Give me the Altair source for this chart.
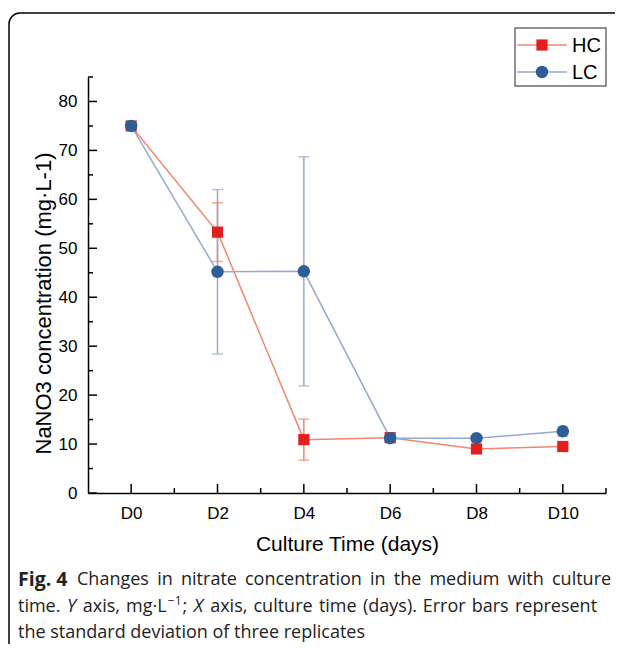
import altair as alt
import pandas as pd

# ---- data ----
series = ["HC", "LC"]
days = [0, 2, 4, 6, 8, 10]
day_labels = ["D0", "D2", "D4", "D6", "D8", "D10"]
hc_mean = [75.0, 53.3, 10.9, 11.3, 9.0, 9.5]
hc_sd = [0.5, 6.0, 4.2, 0.4, 0.4, 0.4]
lc_mean = [75.0, 45.2, 45.3, 11.2, 11.2, 12.6]
lc_sd = [0.5, 16.8, 23.4, 0.5, 0.4, 1.0]
y_major = [0, 10, 20, 30, 40, 50, 60, 70, 80]
y_minor = [5, 15, 25, 35, 45, 55, 65, 75, 85]
x_minor = [1, 3, 5, 7, 9, 11]

y_title = "NaNO3 concentration (mg·L-1)"
x_title = "Culture Time (days)"
cap_bold = "Fig. 4"
cap_line1 = "Changes in nitrate concentration in the medium with culture"
# (text, style, space before)
cap_line2 = [("time.", "n", False), ("Y", "i", True), ("axis,", "n", True), ("mg·L", "n", True),
             ("−1", "sup", False), (";", "n", False), ("X", "i", True), ("axis,", "n", True),
             ("culture", "n", True), ("time", "n", True), ("(days).", "n", True),
             ("Error", "n", True), ("bars", "n", True), ("represent", "n", True)]
cap_line3 = "the standard deviation of three replicates"

line_colors = ["#f3866c", "#95a9d3"]
mark_colors = ["#e11f1c", "#2f5d97"]

rows = []
for s, m, sd in [("HC", hc_mean, hc_sd), ("LC", lc_mean, lc_sd)]:
    for d, mm, ss in zip(days, m, sd):
        rows.append({"series": s, "day": d, "mean": mm, "lo": mm - ss, "hi": mm + ss})
df = pd.DataFrame(rows)

W, H = 518, 416
FONT = "Liberation Sans"

xscale = alt.Scale(domain=[-1, 11], nice=False, zero=False)
yscale = alt.Scale(domain=[0, 85], nice=False, zero=False)

label_expr = str(day_labels) + "[round(datum.value / 2)]"


def X(field="day"):
    return alt.X(f"{field}:Q", scale=xscale,
                 axis=alt.Axis(values=days, labelExpr=label_expr, ticks=False, grid=False,
                               domainColor="black", domainWidth=1.5,
                               labelFont=FONT, labelFontSize=17, labelColor="black",
                               labelPadding=12, title=x_title, titleFont=FONT,
                               titleFontSize=21, titleFontWeight="normal",
                               titleColor="black", titlePadding=12))


def Y(field="mean"):
    return alt.Y(f"{field}:Q", scale=yscale,
                 axis=alt.Axis(values=y_major, ticks=False, grid=False,
                               domainColor="black", domainWidth=1.5,
                               labelFont=FONT, labelFontSize=17, labelColor="black",
                               labelPadding=11, title=y_title, titleFont=FONT,
                               titleFontSize=22, titleFontWeight="normal",
                               titleColor="black", titleX=-45, titleY=226,
                               titleAngle=270, titleAlign="center",
                               titleBaseline="middle"))


line_scale = alt.Scale(domain=series, range=line_colors)

base = alt.Chart(df)

err_rules = base.mark_rule(strokeWidth=1.5).encode(
    x=X(), y=Y("lo"), y2="hi:Q",
    color=alt.Color("series:N", scale=line_scale, legend=None))
err_caps_hi = base.mark_tick(orient="horizontal", size=11, thickness=1.5).encode(
    x=X(), y=Y("hi"), color=alt.Color("series:N", scale=line_scale, legend=None))
err_caps_lo = base.mark_tick(orient="horizontal", size=11, thickness=1.5).encode(
    x=X(), y=Y("lo"), color=alt.Color("series:N", scale=line_scale, legend=None))

lines = base.mark_line(strokeWidth=1.5).encode(
    x=X(), y=Y(), color=alt.Color("series:N", scale=line_scale, legend=None),
    order=alt.Order("day:Q"))

hc_pts = base.transform_filter(alt.datum.series == "HC").mark_square(
    size=125, opacity=1, color=mark_colors[0]).encode(x=X(), y=Y())
lc_pts = base.transform_filter(alt.datum.series == "LC").mark_circle(
    size=155, opacity=1, color=mark_colors[1]).encode(x=X(), y=Y())

# inward ticks
xt_major = alt.Chart(pd.DataFrame({"day": days})).mark_rule(color="black", strokeWidth=1.5).encode(
    x=X(), y=alt.value(H), y2=alt.value(H - 9))
xt_minor = alt.Chart(pd.DataFrame({"day": x_minor})).mark_rule(color="black", strokeWidth=1.5).encode(
    x=X(), y=alt.value(H), y2=alt.value(H - 5))
yt_major = alt.Chart(pd.DataFrame({"mean": y_major})).mark_rule(color="black", strokeWidth=1.5).encode(
    y=Y(), x=alt.value(0), x2=alt.value(9))
yt_minor = alt.Chart(pd.DataFrame({"mean": y_minor})).mark_rule(color="black", strokeWidth=1.5).encode(
    y=Y(), x=alt.value(0), x2=alt.value(5))

one = alt.Chart(pd.DataFrame({"k": [0]}))

frame = one.mark_rect(fillOpacity=0, stroke="black", strokeWidth=1.5, cornerRadius=11).encode(
    x=alt.value(-79), x2=alt.value(560), y=alt.value(-64), y2=alt.value(640))

# legend
leg_box = one.mark_rect(fill="white", stroke="#6e6e6e", strokeWidth=1.5).encode(
    x=alt.value(427), x2=alt.value(518), y=alt.value(-49), y2=alt.value(9))
leg_layers = [leg_box]
for i, s in enumerate(series):
    yy = -32 + i * 27
    leg_layers.append(one.mark_rule(color=line_colors[i], strokeWidth=1.5).encode(
        x=alt.value(429), x2=alt.value(479), y=alt.value(yy)))
    if s == "HC":
        leg_layers.append(one.mark_square(size=125, opacity=1, color=mark_colors[i]).encode(
            x=alt.value(454), y=alt.value(yy)))
    else:
        leg_layers.append(one.mark_circle(size=155, opacity=1, color=mark_colors[i]).encode(
            x=alt.value(454), y=alt.value(yy)))
    leg_layers.append(one.mark_text(text=s, align="left", baseline="middle", font=FONT,
                                    fontSize=20, color="black").encode(
        x=alt.value(484), y=alt.value(yy + 1)))

# caption (justified word by word, approximate Open Sans advance widths)
CF = "Open Sans"
CS = 18
CCOL = "#222"
EM = {' ': 0.260, 'a': 0.556, 'b': 0.613, 'c': 0.476, 'd': 0.613, 'e': 0.561, 'f': 0.339,
      'g': 0.548, 'h': 0.614, 'i': 0.253, 'l': 0.253, 'm': 0.930, 'n': 0.614, 'o': 0.604,
      'p': 0.613, 'r': 0.408, 's': 0.477, 't': 0.353, 'u': 0.614, 'v': 0.501, 'w': 0.778,
      'x': 0.524, 'y': 0.502, 'C': 0.633, 'E': 0.541, 'L': 0.518, 'X': 0.564, 'Y': 0.527,
      '(': 0.274, ')': 0.274, '.': 0.266, ',': 0.244, ';': 0.266, '·': 0.266, '−': 0.572,
      '1': 0.572}


def tw(t, size):
    return sum(EM.get(c, 0.55) for c in t) * size


def place(segs, x0, x1, yc):
    sizes = [12 if st == "sup" else CS for _, st, _ in segs]
    widths = [tw(t, sz) for (t, _, _), sz in zip(segs, sizes)]
    n_sp = sum(1 for _, _, sp in segs[1:] if sp)
    gap = (x1 - x0 - sum(widths) - 1.0 * sum(1 for _, _, sp in segs[1:] if not sp)) / max(n_sp, 1)
    out = []
    x = x0
    for k, ((t, st, sp), w, sz) in enumerate(zip(segs, widths, sizes)):
        if k > 0:
            x += gap if sp else 1.0
        kw = dict(text=t, align="left", baseline="middle", font=CF, fontSize=sz, color=CCOL)
        if st == "i":
            kw["fontStyle"] = "italic"
        out.append(one.mark_text(**kw).encode(x=alt.value(x), y=alt.value(yc - 6 if st == "sup" else yc)))
        x += w
    return out


cap = [
    one.mark_text(text=cap_bold, align="left", baseline="middle", font=CF, fontSize=19.5,
                  fontWeight="bold", color=CCOL).encode(x=alt.value(-70), y=alt.value(503)),
]
cap += place([(w, "n", True) for w in cap_line1.split(" ")], -11, 523, 503)
cap += place(cap_line2, -70, 509, 530)
cap.append(one.mark_text(text=cap_line3, align="left", baseline="middle", font=CF, fontSize=CS,
                         color=CCOL).encode(x=alt.value(-70), y=alt.value(556)))

chart = alt.layer(
    frame, err_rules, err_caps_hi, err_caps_lo, lines, hc_pts, lc_pts,
    xt_major, xt_minor, yt_major, yt_minor, *leg_layers, *cap
).properties(
    width=W, height=H,
    autosize=alt.AutoSizeParams(type="none"),
    padding={"left": 80, "top": 69, "right": 9, "bottom": 151},
    background="white",
).configure_view(stroke=None)

chart.save("out.html", embed_options={"renderer": "svg", "actions": False})
